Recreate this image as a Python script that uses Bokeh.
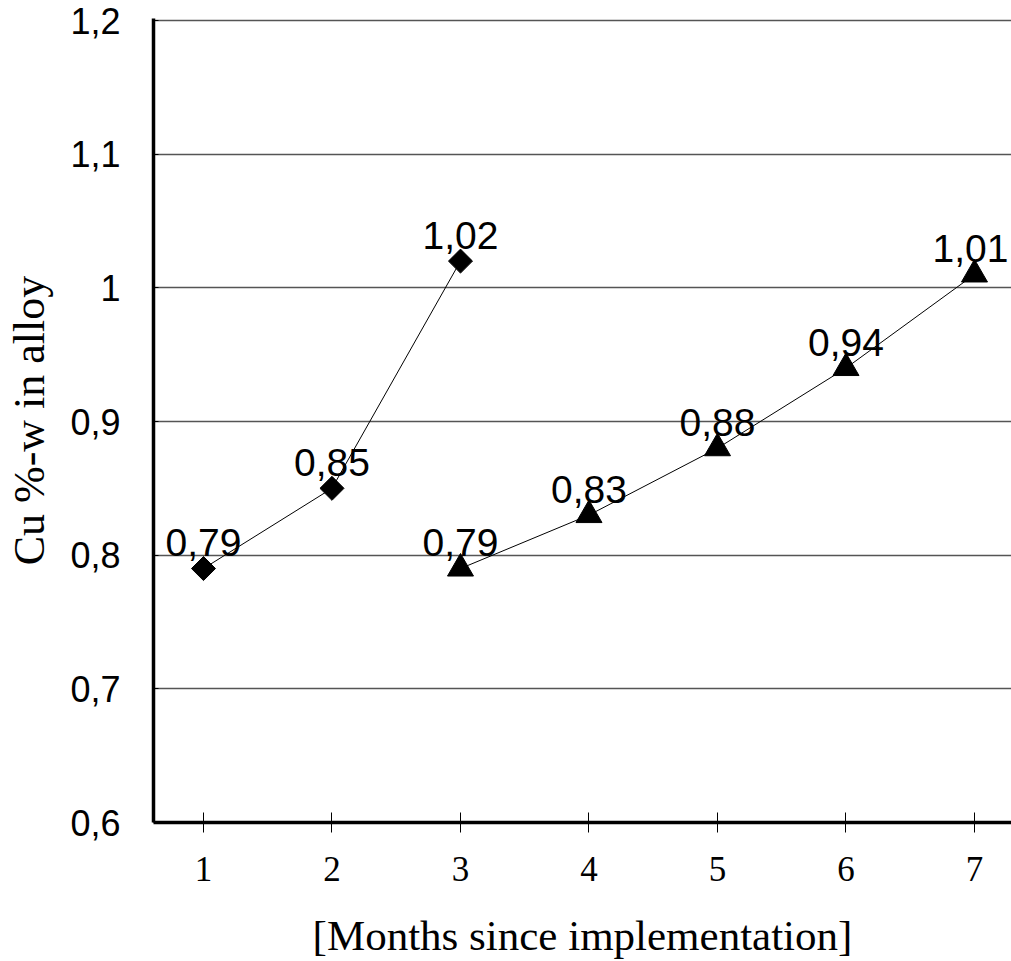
import math
from bokeh.plotting import figure
from bokeh.models import FixedTicker, ColumnDataSource
from bokeh.core.properties import value
from bokeh.embed import file_html
from bokeh.resources import INLINE

# ---- data ----
months_a = [1, 2, 3]
cu_a = [0.79, 0.85, 1.02]
months_b = [3, 4, 5, 6, 7]
cu_b = [0.79, 0.83, 0.88, 0.94, 1.01]

x_ticks = [1, 2, 3, 4, 5, 6, 7]
y_ticks = [0.6, 0.7, 0.8, 0.9, 1.0, 1.1, 1.2]
y_tick_labels = ["0,6", "0,7", "0,8", "0,9", "1", "1,1", "1,2"]

x_title = "[Months since implementation]"
y_title = "Cu %-w in alloy"


def fmt(v):
    return ("%g" % v).replace(".", ",")


src_a = ColumnDataSource(dict(x=months_a, y=cu_a, lbl=[fmt(v) for v in cu_a]))
# last label nudged a few pixels left so it stays inside the page
src_b = ColumnDataSource(dict(x=months_b, y=cu_b, lbl=[fmt(v) for v in cu_b],
                              dx=[0] * (len(months_b) - 1) + [-4]))

p = figure(width=1011, height=961, x_range=(0.611, 7.288), y_range=(0.6, 1.2015),
           output_backend="svg", toolbar_location=None,
           min_border_left=153, min_border_right=0, min_border_top=18,
           min_border_bottom=137)
p.outline_line_color = None
p.background_fill_color = "white"
p.border_fill_color = "white"

# grid
p.xgrid.grid_line_color = None
p.ygrid.grid_line_color = "#555555"
p.ygrid.grid_line_width = 1.3
p.ygrid.ticker = FixedTicker(ticks=y_ticks)

# y axis
ya = p.yaxis[0]
ya.ticker = FixedTicker(ticks=y_ticks)
ya.major_label_overrides = {t: l for t, l in zip(y_ticks, y_tick_labels)}
ya.axis_line_color = "black"
ya.axis_line_width = 3.5
ya.major_tick_in = 5
ya.major_tick_out = 0
ya.major_tick_line_color = "black"
ya.minor_tick_line_color = None
ya.major_label_standoff = 33
ya.major_label_text_font = "Liberation Sans"
ya.major_label_text_font_size = "36px"
ya.major_label_text_color = "black"
ya.axis_label = y_title
ya.axis_label_text_font = "Liberation Serif"
ya.axis_label_text_font_style = "normal"
ya.axis_label_text_font_size = "44px"
ya.axis_label_text_color = "black"
ya.axis_label_standoff = 13

# x axis
xa = p.xaxis[0]
xa.ticker = FixedTicker(ticks=x_ticks)
xa.axis_line_color = "black"
xa.axis_line_width = 3.5
xa.major_tick_in = 10
xa.major_tick_out = 10
xa.major_tick_line_color = "black"
xa.minor_tick_line_color = None
xa.major_label_standoff = 24
xa.major_label_text_font = "Liberation Serif"
xa.major_label_text_font_size = "35px"
xa.major_label_text_color = "black"
xa.axis_label = x_title
xa.axis_label_text_font = "Liberation Serif"
xa.axis_label_text_font_style = "normal"
xa.axis_label_text_font_size = "43px"
xa.axis_label_text_color = "black"
xa.axis_label_standoff = 28

# series A (diamonds)
p.line("x", "y", source=src_a, line_color="black", line_width=1)
p.scatter("x", "y", source=src_a, marker="square", angle=math.pi / 4, size=17,
          fill_color="black", line_color="black")
p.text("x", "y", text="lbl", source=src_a, text_align="center",
       text_baseline="alphabetic", y_offset=-26,
       text_font=value("Liberation Sans"), text_font_size="39px", text_color="black")

# series B (triangles)
p.line("x", "y", source=src_b, line_color="black", line_width=1)
p.scatter("x", "y", source=src_b, marker="triangle", size=26,
          fill_color="black", line_color="black")
p.text("x", "y", text="lbl", source=src_b, text_align="center",
       text_baseline="alphabetic", y_offset=-26, x_offset="dx",
       text_font=value("Liberation Sans"), text_font_size="39px", text_color="black")

open("out.html", "w").write(file_html(p, INLINE))
